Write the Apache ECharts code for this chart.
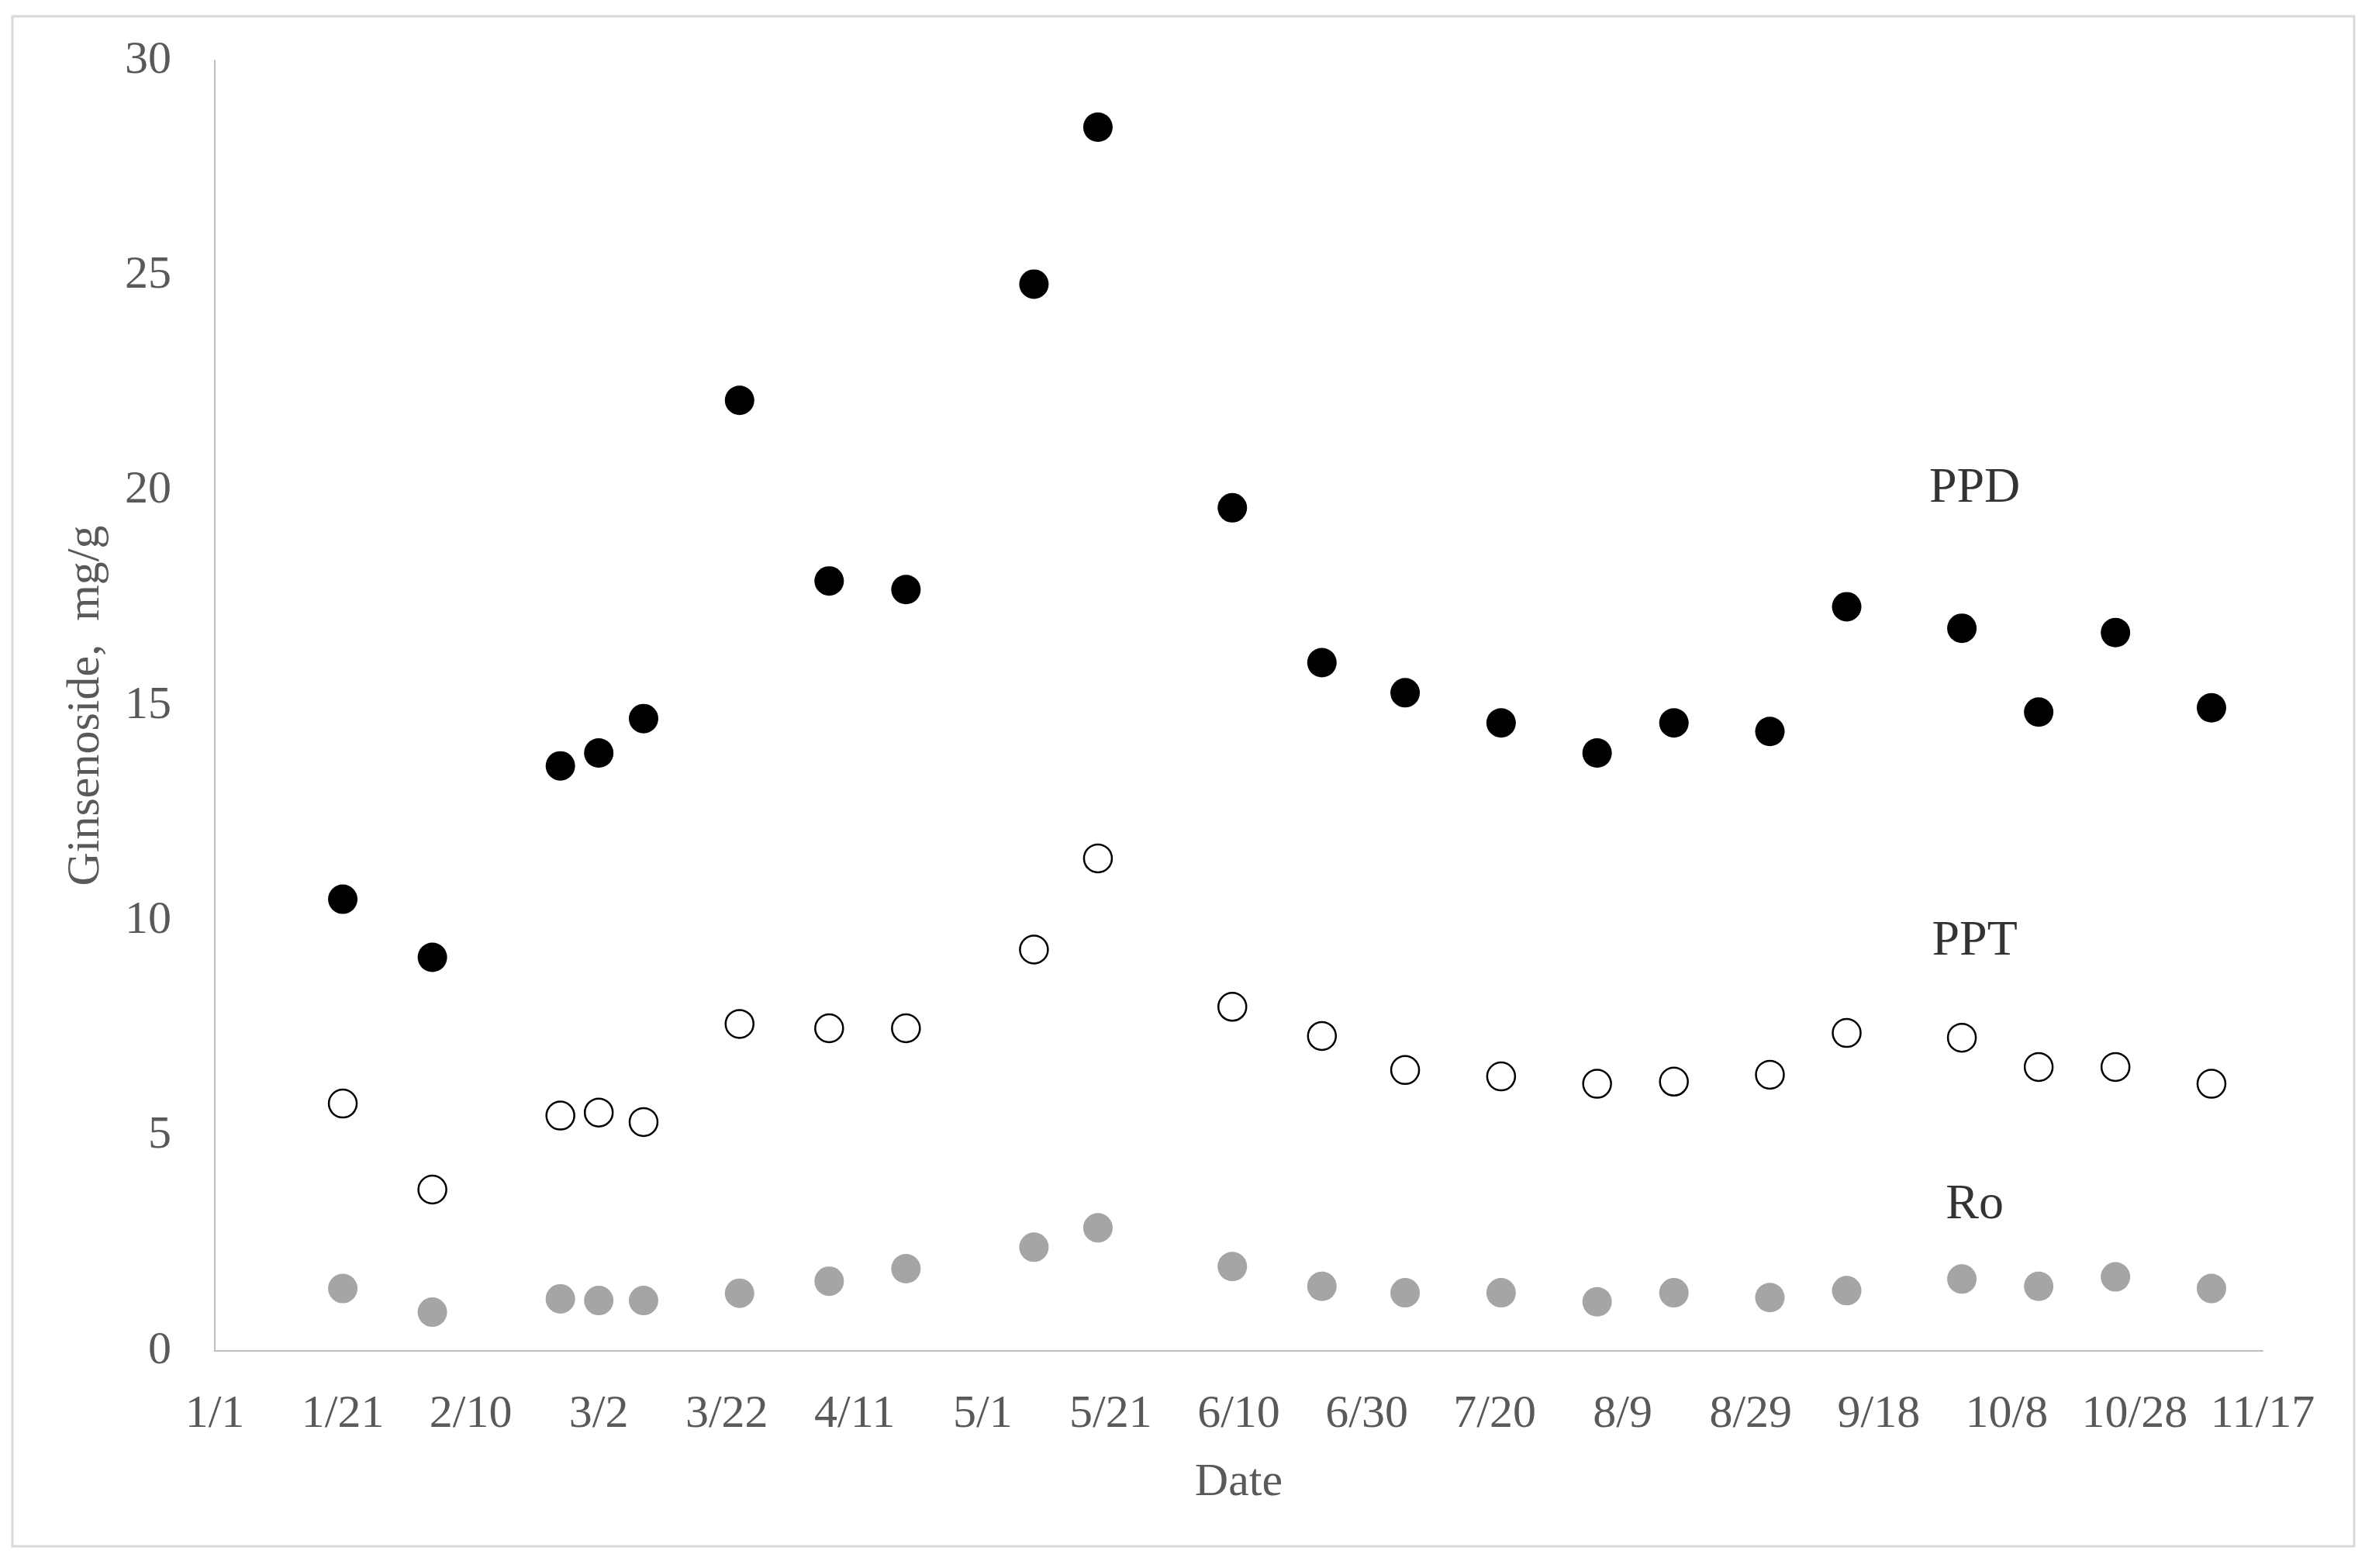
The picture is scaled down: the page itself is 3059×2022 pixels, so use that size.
<!DOCTYPE html>
<html>
<head>
<meta charset="utf-8">
<script src="https://cdn.jsdelivr.net/npm/echarts@6/dist/echarts.min.js"></script>
<style>
html,body{margin:0;padding:0;background:#fff;}
#chart{width:3059px;height:2022px;}
</style>
</head>
<body>
<div id="chart"></div>
<script>
// Day of year (0 = 1/1)
const days = [20, 34, 54, 60, 67, 82, 96, 108, 128, 138, 159, 173, 186, 201, 216, 228, 243, 255, 273, 285, 297, 312];
const ppd = [10.5, 9.15, 13.6, 13.9, 14.7, 22.1, 17.9, 17.7, 24.8, 28.45, 19.6, 16.0, 15.3, 14.6, 13.9, 14.6, 14.4, 17.3, 16.8, 14.85, 16.7, 14.95];
const ppt = [5.75, 3.75, 5.47, 5.54, 5.32, 7.6, 7.5, 7.5, 9.33, 11.45, 8.0, 7.32, 6.53, 6.38, 6.21, 6.26, 6.42, 7.39, 7.28, 6.6, 6.6, 6.21];
const ro = [1.45, 0.9, 1.21, 1.17, 1.17, 1.34, 1.62, 1.91, 2.41, 2.86, 1.96, 1.5, 1.35, 1.35, 1.14, 1.35, 1.24, 1.4, 1.67, 1.5, 1.72, 1.45];
const xTickLabels = ['1/1','1/21','2/10','3/2','3/22','4/11','5/1','5/21','6/10','6/30','7/20','8/9','8/29','9/18','10/8','10/28','11/17'];
const annoNames = ['PPD', 'PPT', 'Ro'];
const annoDays = [275, 275, 275];
const annoValues = [20.05, 9.52, 3.39];

const zip = (xs, ys) => xs.map((x, i) => [x, ys[i]]);
const font = 'Liberation Serif';

const chart = echarts.init(document.getElementById('chart'));
chart.setOption({
  backgroundColor: '#ffffff',
  animation: false,
  graphic: [{
    type: 'rect',
    shape: {x: 16, y: 21, width: 3020, height: 1973},
    style: {fill: 'none', stroke: '#d9d9d9', lineWidth: 3},
    silent: true
  }],
  grid: {left: 277, right: 141, top: 78, bottom: 280, containLabel: false},
  xAxis: {
    type: 'value',
    min: 0, max: 320, interval: 20,
    name: 'Date',
    nameLocation: 'middle',
    nameGap: 140,
    nameTextStyle: {fontFamily: font, fontSize: 60, color: '#595959'},
    axisLine: {show: true, onZero: false, lineStyle: {color: '#bfbfbf', width: 2}},
    axisTick: {show: false},
    splitLine: {show: false},
    axisLabel: {
      fontFamily: font, fontSize: 60, color: '#595959', margin: 52,
      formatter: v => xTickLabels[Math.round(v / 20)]
    }
  },
  yAxis: {
    type: 'value',
    min: 0, max: 30, interval: 5,
    name: 'Ginsenoside,  mg/g',
    nameLocation: 'middle',
    nameGap: 136,
    nameTextStyle: {fontFamily: font, fontSize: 60, color: '#595959'},
    axisLine: {show: true, lineStyle: {color: '#bfbfbf', width: 2}},
    axisTick: {show: false},
    splitLine: {show: false},
    axisLabel: {fontFamily: font, fontSize: 60, color: '#595959', margin: 56}
  },
  series: [
    {
      name: 'PPD', type: 'scatter', data: zip(days, ppd),
      symbol: 'circle', symbolSize: 38,
      itemStyle: {color: '#000000', opacity: 1}
    },
    {
      name: 'PPT', type: 'scatter', data: zip(days, ppt),
      symbol: 'circle', symbolSize: 36,
      itemStyle: {color: '#ffffff', borderColor: '#000000', borderWidth: 2.5, opacity: 1}
    },
    {
      name: 'Ro', type: 'scatter', data: zip(days, ro),
      symbol: 'circle', symbolSize: 38,
      itemStyle: {color: '#a5a5a5', opacity: 1}
    },
    {
      name: 'labels', type: 'scatter',
      data: annoNames.map((n, i) => ({name: n, value: [annoDays[i], annoValues[i]]})),
      symbolSize: 1,
      itemStyle: {color: 'rgba(0,0,0,0)'},
      label: {
        show: true, position: 'inside', formatter: p => p.name,
        fontFamily: font, fontSize: 64, color: '#000000'
      },
      silent: true
    }
  ]
});
</script>
</body>
</html>
